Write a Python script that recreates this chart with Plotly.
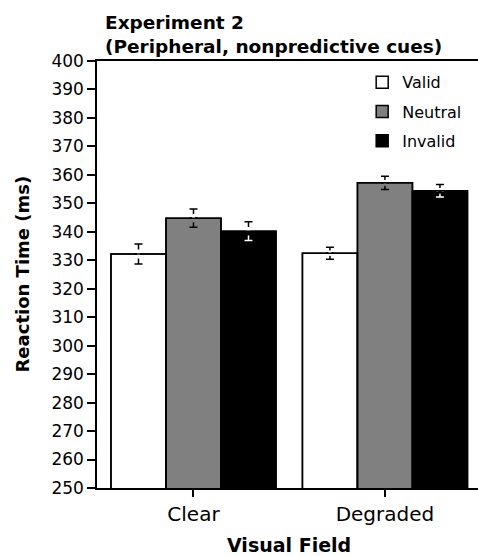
import plotly.graph_objects as go

categories = ["Clear", "Degraded"]
series_names = ["Valid", "Neutral", "Invalid"]
valid = [332.2, 332.5]
neutral = [344.8, 357.2]
invalid = [340.2, 354.4]
valid_err = [3.5, 2.1]
neutral_err = [3.2, 2.3]
invalid_err = [3.3, 2.2]
y_ticks = list(range(250, 401, 10))

FONT = "DejaVu Sans"
fills = ["#ffffff", "#808080", "#000000"]
lower_err_colors = ["#000000", "#000000", "#ffffff"]
values = [valid, neutral, invalid]
errs = [valid_err, neutral_err, invalid_err]
GAP = 0.45  # fraction of each error stem hidden next to the bar top

fig = go.Figure()
# real bars with upper error bars in black
for i, (name, vals, err, col) in enumerate(zip(series_names, values, errs, fills)):
    fig.add_trace(go.Bar(
        x=categories, y=vals, name=name, offsetgroup=str(i), legendgroup=name,
        marker=dict(color=col, line=dict(color="#000000", width=1.5)),
        error_y=dict(type="data", symmetric=False, array=err, arrayminus=[0] * len(err),
                     color="#000000", thickness=1.5, width=4),
    ))
# lower error bars (white inside black bars)
for i, (vals, err, ecol) in enumerate(zip(values, errs, lower_err_colors)):
    fig.add_trace(go.Bar(
        x=categories, y=vals, offsetgroup=str(i), showlegend=False, hoverinfo="skip",
        marker=dict(color="rgba(0,0,0,0)", line=dict(width=0)),
        error_y=dict(type="data", symmetric=False, array=[0] * len(err), arrayminus=err,
                     color=ecol, thickness=1.5, width=4),
    ))
# masks: hide the stem near the bar top (background colour above, bar colour below)
for i, (vals, err, col) in enumerate(zip(values, errs, fills)):
    fig.add_trace(go.Bar(
        x=categories, y=vals, offsetgroup=str(i), showlegend=False, hoverinfo="skip",
        marker=dict(color="rgba(0,0,0,0)", line=dict(width=0)),
        error_y=dict(type="data", symmetric=False, array=[e * GAP for e in err],
                     arrayminus=[0] * len(err), color="#ffffff", thickness=3, width=0),
    ))
    fig.add_trace(go.Bar(
        x=categories, y=vals, offsetgroup=str(i), showlegend=False, hoverinfo="skip",
        marker=dict(color="rgba(0,0,0,0)", line=dict(width=0)),
        error_y=dict(type="data", symmetric=False, array=[0] * len(err),
                     arrayminus=[e * GAP for e in err], color=col, thickness=3, width=0),
    ))
# redraw bar outlines on top of the masks
for i, vals in enumerate(values):
    fig.add_trace(go.Bar(
        x=categories, y=vals, offsetgroup=str(i), showlegend=False, hoverinfo="skip",
        marker=dict(color="rgba(0,0,0,0)", line=dict(color="#000000", width=1.5)),
    ))

fig.update_layout(
    width=478, height=556,
    margin=dict(l=97, r=0, t=61, b=68),
    paper_bgcolor="white", plot_bgcolor="white",
    barmode="group", bargap=0.138, bargroupgap=0,
    font=dict(family=FONT, color="#000000"),
    showlegend=True,
    legend=dict(x=0.696, y=0.99, xanchor="left", yanchor="top",
                font=dict(size=16, family=FONT), tracegroupgap=5.5,
                bgcolor="rgba(0,0,0,0)", itemclick=False),
    xaxis=dict(range=[-0.504, 1.486], showline=True, linecolor="#000000", linewidth=1.5,
               mirror=True, ticks="outside", ticklen=7, tickwidth=1.5, tickcolor="#000000",
               tickfont=dict(size=20, family=FONT), showgrid=False, zeroline=False),
    yaxis=dict(range=[250, 400], tickvals=y_ticks, showline=True, linecolor="#000000",
               linewidth=1.5, ticks="outside", ticklen=8, tickwidth=1.5, tickcolor="#000000",
               tickfont=dict(size=17, family=FONT), showgrid=False, zeroline=False),
    annotations=[
        dict(text="<b>Experiment 2<br>(Peripheral, nonpredictive cues)</b>", xref="paper", yref="paper",
             x=0, y=1, xanchor="left", yanchor="bottom", xshift=6, yshift=2, align="left",
             showarrow=False, font=dict(size=18.5, family=FONT)),
        dict(text="<b>Reaction Time (ms)</b>", xref="paper", yref="paper", x=0, y=0.5,
             xanchor="center", yanchor="middle", xshift=-75, textangle=-90,
             showarrow=False, font=dict(size=18, family=FONT)),
        dict(text="<b>Visual Field</b>", xref="paper", yref="paper", x=(289 - 97) / 381, y=0,
             xanchor="center", yanchor="middle", yshift=-57,
             showarrow=False, font=dict(size=19, family=FONT)),
    ],
)

fig.write_html("out.html")
